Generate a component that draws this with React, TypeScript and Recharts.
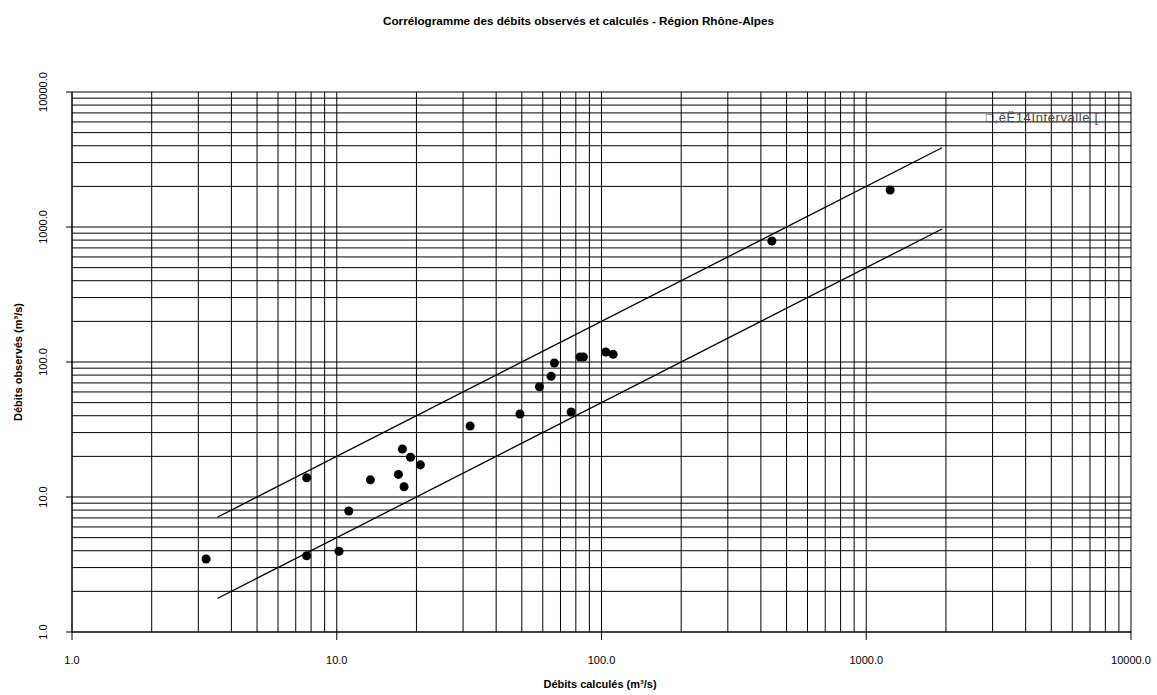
import { ScatterChart, Scatter, XAxis, YAxis, ReferenceLine } from 'recharts';

// débits calculés (x) / observés (y), m³/s
const stations = [
  { x: 3.21, y: 3.47 },
  { x: 7.7, y: 13.9 },
  { x: 7.7, y: 3.67 },
  { x: 10.2, y: 3.96 },
  { x: 11.1, y: 7.88 },
  { x: 13.4, y: 13.4 },
  { x: 17.1, y: 14.7 },
  { x: 17.96, y: 11.9 },
  { x: 17.7, y: 22.7 },
  { x: 19.0, y: 19.7 },
  { x: 20.7, y: 17.3 },
  { x: 31.9, y: 33.6 },
  { x: 49.2, y: 41.2 },
  { x: 58.3, y: 65.6 },
  { x: 64.5, y: 78.3 },
  { x: 66.4, y: 98.4 },
  { x: 76.8, y: 42.6 },
  { x: 83.0, y: 109 },
  { x: 85.4, y: 109 },
  { x: 103.8, y: 118.6 },
  { x: 110.6, y: 114 },
  { x: 440, y: 787 },
  { x: 1231, y: 1880 },
];

// intervalle [x/2 ; 2x]
const upperLimit = [
  { x: 3.54, y: 7.08 },
  { x: 1932, y: 3864 },
];
const lowerLimit = [
  { x: 3.54, y: 1.77 },
  { x: 1932, y: 966 },
];

const decadeTicks = [1, 10, 100, 1000, 10000];
const gridValues = [
  1, 2, 3, 4, 5, 6, 7, 8, 9,
  10, 20, 30, 40, 50, 60, 70, 80, 90,
  100, 200, 300, 400, 500, 600, 700, 800, 900,
  1000, 2000, 3000, 4000, 5000, 6000, 7000, 8000, 9000,
  10000,
];

const FONT = '"Liberation Sans", Arial, sans-serif';

function XTick({ x, y, payload }: { x?: number; y?: number; payload?: { value: number } }) {
  return (
    <text x={x} y={(y ?? 0) + 22} textAnchor="middle" fontSize={11} fill="#000" fontFamily={FONT}>
      {payload?.value.toFixed(1)}
    </text>
  );
}

function YTick({ x, y, payload }: { x?: number; y?: number; payload?: { value: number } }) {
  return (
    <text
      transform={`translate(${(x ?? 0) - 17},${y}) rotate(-90)`}
      textAnchor="middle"
      fontSize={11}
      fill="#000"
      fontFamily={FONT}
    >
      {payload?.value.toFixed(1)}
    </text>
  );
}

const noMark = () => <g />;

export default function App() {
  return (
    <div
      style={{
        position: 'absolute',
        left: 0,
        top: 0,
        width: 1157,
        height: 695,
        background: '#fff',
        fontFamily: FONT,
      }}
    >
      <div
        style={{
          position: 'absolute',
          top: 14,
          left: 0,
          width: 1157,
          textAlign: 'center',
          fontSize: 11.7,
          fontWeight: 'bold',
        }}
      >
        Corrélogramme des débits observés et calculés - Région Rhône-Alpes
      </div>
      <ScatterChart width={1157} height={695} margin={{ top: 92, right: 26, bottom: 33, left: 32 }}>
        <XAxis
          type="number"
          dataKey="x"
          scale="log"
          domain={[1, 10000]}
          ticks={decadeTicks}
          interval={0}
          allowDataOverflow
          height={30}
          tickSize={8}
          axisLine={{ stroke: '#000' }}
          tickLine={{ stroke: '#000' }}
          tick={<XTick />}
        />
        <YAxis
          type="number"
          dataKey="y"
          scale="log"
          domain={[1, 10000]}
          ticks={decadeTicks}
          interval={0}
          allowDataOverflow
          width={40}
          tickSize={6}
          axisLine={{ stroke: '#000' }}
          tickLine={{ stroke: '#000' }}
          tick={<YTick />}
        />
        {gridValues.map((v) => (
          <ReferenceLine key={`gx-${v}`} x={v} stroke="#000" strokeWidth={1} />
        ))}
        {gridValues.map((v) => (
          <ReferenceLine key={`gy-${v}`} y={v} stroke="#000" strokeWidth={1} />
        ))}
        <Scatter
          data={upperLimit}
          line={{ stroke: '#000', strokeWidth: 1.3 }}
          shape={noMark}
          isAnimationActive={false}
        />
        <Scatter
          data={lowerLimit}
          line={{ stroke: '#000', strokeWidth: 1.3 }}
          shape={noMark}
          isAnimationActive={false}
        />
        <Scatter data={stations} fill="#000" shape="circle" isAnimationActive={false} />
      </ScatterChart>
      <div
        style={{
          position: 'absolute',
          left: 986,
          top: 110,
          fontSize: 13,
          letterSpacing: 0.6,
          color: '#444',
        }}
      >
        □,êË14Intervalle [
      </div>
      <div
        style={{
          position: 'absolute',
          top: 678,
          left: 0,
          width: 1200,
          textAlign: 'center',
          fontSize: 11,
          fontWeight: 'bold',
        }}
      >
        Débits calculés (m³/s)
      </div>
      <div
        style={{
          position: 'absolute',
          left: 18,
          top: 362,
          transform: 'translate(-50%, -50%) rotate(-90deg)',
          whiteSpace: 'nowrap',
          fontSize: 11,
          fontWeight: 'bold',
        }}
      >
        Débits observés (m³/s)
      </div>
    </div>
  );
}
